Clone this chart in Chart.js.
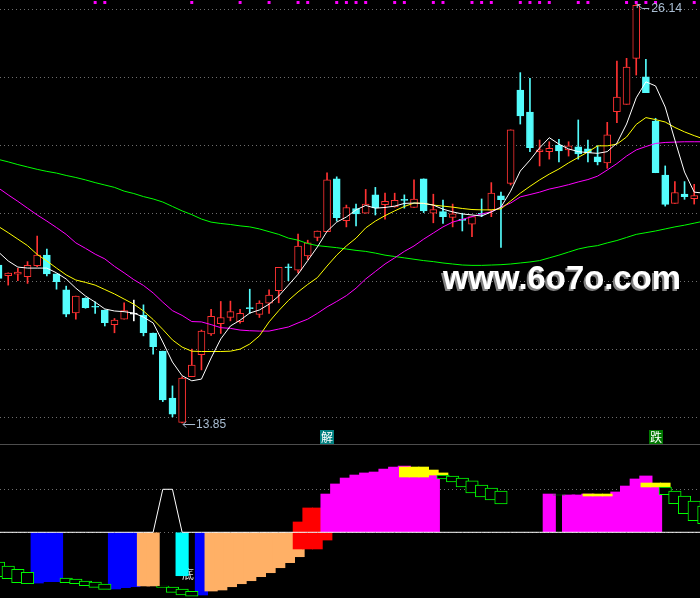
<!DOCTYPE html>
<html>
<head>
<meta charset="utf-8">
<script src="https://cdn.jsdelivr.net/npm/chart.js@4.4.1/dist/chart.umd.min.js"></script>
<style>
html,body{margin:0;padding:0;background:#000;}
#wrap{position:relative;width:700px;height:598px;background:#000;overflow:hidden;}
#top{position:absolute;left:0;top:0;width:700px;height:444px;}
#bot{position:absolute;left:0;top:444px;width:700px;height:154px;border-top:1px solid #4d4d4d;box-sizing:border-box;}
canvas{display:block;}
</style>
</head>
<body>
<div id="wrap">
  <div id="top"><canvas id="c1" width="700" height="444"></canvas></div>
  <div id="bot"><canvas id="c2" width="700" height="153"></canvas></div>
</div>
<script>
// ---------- price panel data (one entry per trading day) ----------
const openP = [18.49,18.18,18.22,18.15,18.47,18.78,18.23,17.76,17.08,17.51,
17.27,17.17,16.74,16.90,17.05,17.02,16.49,15.96,14.58,13.87,
15.21,15.86,16.47,16.77,16.95,16.83,17.23,17.04,17.37,17.74,
18.43,18.34,18.76,19.30,19.47,21.02,19.79,20.15,20.01,20.55,
20.26,20.20,20.41,20.18,21.02,20.01,20.06,19.89,19.82,19.69,
20.00,20.10,20.52,20.89,23.63,22.98,21.82,21.82,22.01,21.87,
21.96,21.90,21.67,21.49,22.99,23.21,24.56,24.02,22.72,21.13,
20.30,20.57,20.44,null];
const highP = [18.58,18.26,18.39,18.59,19.34,18.96,18.23,17.87,17.58,17.53,
17.41,17.17,16.92,17.38,17.46,17.32,16.49,15.96,14.94,15.21,
16.02,16.58,17.19,17.42,17.43,17.19,17.78,17.44,17.76,18.42,
18.52,19.40,19.22,19.49,21.20,21.08,20.25,20.28,20.71,20.77,
20.60,20.60,20.55,20.99,21.02,20.57,20.40,20.28,20.01,19.91,
20.43,20.91,20.63,22.46,24.14,23.97,22.16,22.11,22.18,22.11,
22.75,22.16,21.99,22.68,24.48,24.56,26.14,24.53,22.80,21.40,
20.94,20.94,20.86,null];
const lowP = [18.02,17.90,18.03,17.95,18.44,18.17,17.78,16.97,16.90,17.22,
17.07,16.70,16.50,16.90,16.85,16.41,15.87,14.48,14.03,13.85,
15.21,15.41,16.42,16.48,16.85,16.78,17.07,16.95,17.07,17.38,
18.03,18.26,18.64,19.20,19.47,19.78,19.61,19.64,20.01,19.96,
19.84,20.19,20.16,20.18,20.03,19.73,19.71,19.61,19.49,19.32,
19.91,19.91,19.01,20.84,22.63,21.82,21.40,21.60,21.52,21.69,
21.60,21.52,21.43,21.33,22.67,23.21,24.07,23.55,21.20,20.22,
20.30,20.42,20.28,null];
const closeP = [18.10,18.25,18.28,18.48,18.78,18.23,18.00,17.05,17.58,17.24,
17.25,16.80,16.87,17.15,17.05,16.50,16.09,14.53,14.11,15.17,
15.55,16.55,16.98,16.95,17.12,17.07,17.21,17.37,17.61,18.42,
18.41,19.05,19.14,19.49,20.99,19.88,20.18,19.99,20.28,20.17,
20.36,20.39,20.39,20.43,20.08,20.12,19.91,19.99,19.80,19.91,
19.98,20.60,20.41,22.46,22.87,21.94,21.87,21.92,21.84,21.99,
21.75,21.79,21.52,22.31,23.42,24.30,26.12,23.55,21.20,20.27,
20.62,20.50,20.53,null];

// moving-average lines
const ma5 = [18.87,18.61,18.43,18.40,18.40,18.40,18.26,18.08,17.81,17.58,
17.40,17.20,17.14,17.12,17.08,16.96,16.79,16.23,15.64,15.24,
15.09,15.14,15.76,16.32,16.70,16.87,17.08,17.17,17.34,17.58,
17.90,18.22,18.62,19.02,19.48,19.75,19.90,20.11,20.24,20.16,
20.18,20.22,20.30,20.31,20.30,20.25,20.13,20.05,19.99,19.96,
19.93,20.05,20.19,20.66,21.25,21.57,21.93,22.23,22.04,21.90,
21.82,21.79,21.77,21.82,22.07,22.63,23.40,23.87,23.75,23.13,
22.16,21.22,20.63,20.60];
const ma10 = [19.62,19.44,19.25,19.06,18.80,18.61,18.40,18.20,18.05,17.98,
17.90,17.77,17.64,17.49,17.34,17.14,16.89,16.60,16.29,16.08,
15.96,15.95,15.95,15.95,15.96,16.02,16.17,16.41,16.82,17.15,
17.45,17.70,17.92,18.12,18.46,18.78,19.05,19.28,19.58,19.78,
19.94,20.08,20.21,20.31,20.30,20.25,20.22,20.19,20.15,20.12,
20.11,20.11,20.14,20.37,20.60,20.80,20.99,21.16,21.31,21.49,
21.65,21.81,21.99,21.99,22.04,22.25,22.62,22.82,22.76,22.69,
22.53,22.40,22.29,22.19];
const ma20 = [20.75,20.55,20.36,20.16,19.96,19.78,19.59,19.39,19.14,18.98,
18.81,18.67,18.45,18.26,18.06,17.89,17.67,17.40,17.15,17.01,
16.83,16.82,16.74,16.65,16.63,16.58,16.56,16.55,16.55,16.61,
16.67,16.79,16.90,17.07,17.26,17.42,17.59,17.81,18.08,18.30,
18.52,18.70,18.89,19.05,19.25,19.43,19.61,19.75,19.83,19.91,
19.99,20.05,20.19,20.31,20.49,20.56,20.63,20.72,20.78,20.85,
20.93,21.00,21.10,21.28,21.47,21.69,21.87,21.97,22.06,22.09,
22.10,22.11,22.11,22.11];
const ma60 = [21.59,21.52,21.44,21.37,21.30,21.24,21.19,21.12,21.06,20.99,
20.91,20.84,20.77,20.66,20.59,20.50,20.43,20.34,20.21,20.08,
19.97,19.84,19.75,19.71,19.68,19.64,19.61,19.55,19.47,19.39,
19.28,19.22,19.12,19.06,19.03,19.00,18.96,18.92,18.89,18.84,
18.78,18.74,18.70,18.66,18.62,18.59,18.55,18.52,18.49,18.48,
18.48,18.49,18.50,18.52,18.55,18.58,18.62,18.70,18.78,18.87,
18.96,19.02,19.06,19.14,19.21,19.30,19.39,19.44,19.49,19.55,
19.61,19.66,19.72,19.78];

const priceTicks = [14,16,18,20,22,24,26];
const markerIdx = [10,11,20,25,28,31,32,35,36,37,38,41,42,45,46,49,50,51,54,55,56,57,60,61,65,66,67,68,72];
const markerLevel = 26.20;
const jieSignals = [34];   // 解
const dieSignals = [68];   // 跌
const watermarkText = 'www.6o7o.com';

// ---------- indicator panel data ----------
const signalTicks = [0,50];
const signalLine = [0,0,0,0,0,0,0,0,0,0,
0,0,0,0,0,0,0,50,50,0,
0,0,0,0,0,0,0,0,0,0,
0,0,0,0,0,0,0,0,0,0,
0,0,0,0,0,0,0,0,0,0,
0,0,0,0,0,0,0,0,0,0,
0,0,0,0,0,0,0,0,0,0,
0,0,0,0];
const blueBars = [[4,-59.0],[5,-57.4],[6,-57.4],[12,-65.9],[13,-64.4],[14,-63.3],[21,-72.9]];
const orangeBars = [[15,-62.4],[16,-62.4],[22,-68.3],[23,-67.1],[24,-63.3],[25,-59.8],[26,-56.3],[27,-51.6],[28,-47.0],[29,-41.2],[30,-35.3],[31,-28.4]];
const cyanBars = [[19,-50.5]];
const redUp = [[31,12.0],[32,28.3],[33,28.3]];
const redDown = [[31,-19.4],[32,-19.4],[33,-19.4],[34,-9.0]];
const magentaBars = [[34,44.5],[35,56.2],[36,63.1],[37,66.6],[38,69.0],[39,70.1],[40,73.6],[41,75.9],[42,77.1],[43,66.6],[44,66.6],[45,66.6],
[57,44.5],[59,43.4],[60,43.4],[61,44.5],[62,42.2],[63,42.2],[64,46.9],[65,53.8],[66,62.0],[67,65.5],[68,52.7]];
const yellowBars = [[42,64.3,75.9],[43,64.3,75.9],[44,64.3,75.9],[45,66.6,72.4],[46,66.6,69.0],
[61,42.2,44.5],[62,42.2,44.5],[63,42.2,44.5],[67,52.7,57.3],[68,52.7,57.3],[69,52.7,57.3]];
const greenBoxes = [[0,-51.6,-34.5],[1,-54.0,-39.2],[2,-58.6,-43.0],[3,-59.8,-46.5],
[7,-58.6,-53.1],[8,-59.8,-54.3],[9,-62.1,-56.6],[10,-64.0,-57.8],[11,-66.3,-60.1],
[17,-64.0,-62.4],[18,-69.8,-63.6],[19,-72.9,-65.9],[20,-74.4,-68.6],
[46,62.0,66.6],[47,58.5,65.5],[48,52.7,63.1],[49,45.7,59.7],[50,41.0,55.0],[51,37.6,51.5],[52,32.9,48.0],
[58,43.2,43.6],
[69,43.7,52.7],[70,33.3,48.0],[71,21.6,42.2],[72,13.5,36.4],[73,10.0,30.6]];
const bottomTexts = [[19,'底']];

// ---------- view ----------
const X_MIN = 0.151, X_MAX = 72.60;
const UP = '#ff3232', DOWN = '#54fcfc', FLAT = '#ffffff';
const GRID = '#6e6e6e';
const LABEL = '#a9bdd2';

const days = [];
for (let i = 0; i < openP.length; i++) if (openP[i] != null) days.push(i);
function candleColor(i){ const o = openP[i], c = closeP[i]; return c > o ? UP : (c < o ? DOWN : FLAT); }
const toXY = arr => arr.map((v,i) => ({x:i, y:v}));
const pairs = arr => arr.map(p => ({x:p[0], y:p[1]}));
const ranges = arr => arr.map(p => ({x:p[0], y:[p[1],p[2]]}));

const xScale = {type:'linear', min:X_MIN, max:X_MAX, offset:false, display:false, grid:{display:false}};

const topLabels = {
  id:'topLabels',
  afterDatasetsDraw(chart){
    const ctx = chart.ctx, xs = chart.scales.x, ys = chart.scales.y, area = chart.chartArea;
    ctx.save();
    // watermark
    ctx.font = 'bold 33px "Liberation Sans", Arial, sans-serif';
    ctx.fillStyle = '#ffffff';
    ctx.shadowColor = '#808080'; ctx.shadowOffsetX = -2; ctx.shadowOffsetY = 2; ctx.shadowBlur = 0;
    ctx.textAlign = 'left'; ctx.textBaseline = 'alphabetic';
    ctx.fillText(watermarkText, 443, 289, 238);
    ctx.restore();

    ctx.save();
    let lo = days[0], hi = days[0];
    days.forEach(i => { if (lowP[i] < lowP[lo]) lo = i; if (highP[i] > highP[hi]) hi = i; });
    ctx.strokeStyle = LABEL; ctx.fillStyle = LABEL; ctx.lineWidth = 1;
    ctx.font = '13px "Liberation Sans", Arial, sans-serif';
    ctx.textAlign = 'left'; ctx.textBaseline = 'middle';
    // low
    const lx = xs.getPixelForValue(lo), ly = ys.getPixelForValue(lowP[lo]);
    ctx.beginPath();
    ctx.moveTo(lx+1, ly+1.5); ctx.lineTo(lx+13, ly+1.5);
    ctx.moveTo(lx+4, ly-1.5); ctx.lineTo(lx+1, ly+1.5); ctx.lineTo(lx+4, ly+4.5);
    ctx.stroke();
    ctx.fillText(lowP[lo].toFixed(2), lx+14, ly+1, 30);
    // high
    const hx = xs.getPixelForValue(hi), hy = ys.getPixelForValue(highP[hi]);
    ctx.beginPath();
    ctx.moveTo(hx+1, hy); ctx.lineTo(hx+6, hy+4); ctx.lineTo(hx+13, hy+4);
    ctx.moveTo(hx+1, hy+3.5); ctx.lineTo(hx+1, hy); ctx.lineTo(hx+4.5, hy);
    ctx.stroke();
    ctx.fillText(highP[hi].toFixed(2), hx+15, hy+4, 31);
    // signal boxes
    const box = (i, txt, bg) => {
      const bx = Math.round(xs.getPixelForValue(i) - 7), by = area.bottom - 14;
      ctx.fillStyle = bg; ctx.fillRect(bx, by, 14, 14);
      ctx.fillStyle = '#ffffff'; ctx.font = '12px "Noto Sans CJK SC", sans-serif';
      ctx.textAlign = 'center'; ctx.textBaseline = 'middle';
      ctx.fillText(txt, bx+7, by+7.5);
    };
    jieSignals.forEach(i => box(i, '解', '#008080'));
    dieSignals.forEach(i => box(i, '跌', '#007800'));
    ctx.restore();
  }
};

new Chart(document.getElementById('c1'), {
  type:'bar',
  data:{datasets:[
    {type:'scatter', data: markerIdx.map(i => ({x:i, y:markerLevel})), pointStyle:'rect', pointRadius:2.1, pointBorderWidth:0, backgroundColor:'#ff00ff', borderColor:'#ff00ff', showLine:false, order:0},
    {type:'line', data: toXY(ma5), borderColor:'#ffffff', borderWidth:1, pointRadius:0, tension:0, order:1},
    {type:'line', data: toXY(ma10), borderColor:'#ffff00', borderWidth:1, pointRadius:0, tension:0, order:2},
    {type:'line', data: toXY(ma20), borderColor:'#ff00ff', borderWidth:1, pointRadius:0, tension:0, order:3},
    {type:'line', data: toXY(ma60), borderColor:'#00ff00', borderWidth:1, pointRadius:0, tension:0, order:4},
    {type:'bar', data: days.map(i => ({x:i, y:[openP[i], closeP[i]]})), barThickness:7, grouped:false, minBarLength:1,
      borderSkipped:false, borderWidth:1,
      backgroundColor: c => { const i = days[c.dataIndex]; return closeP[i] > openP[i] ? '#000000' : candleColor(i); },
      borderColor: c => candleColor(days[c.dataIndex]), order:5},
    {type:'bar', data: days.map(i => ({x:i, y:[lowP[i], highP[i]]})), barThickness:1, grouped:false, borderWidth:0,
      backgroundColor: c => candleColor(days[c.dataIndex]), order:6}
  ]},
  options:{
    responsive:false, maintainAspectRatio:false, animation:false, events:[],
    layout:{padding:0, autoPadding:false},
    plugins:{legend:{display:false}, tooltip:{enabled:false}},
    scales:{
      x: xScale,
      y:{type:'linear', min:13.234, max:26.273, beginAtZero:false, position:'left',
        afterFit: s => { s.width = 0; },
        afterBuildTicks: s => { s.ticks = priceTicks.map(v => ({value:v})); },
        ticks:{display:false}, grid:{color:GRID, lineWidth:1, drawTicks:false}, border:{display:false, dash:[1,3]}}
    }
  },
  plugins:[topLabels]
});

const bottomLabels = {
  id:'bottomLabels',
  beforeDatasetsDraw(chart){
    const ctx = chart.ctx, xs = chart.scales.x, ys = chart.scales.y;
    ctx.save();
    ctx.fillStyle = '#e0e0e0'; ctx.font = '12px "Noto Sans CJK SC", sans-serif';
    ctx.textAlign = 'center'; ctx.textBaseline = 'middle';
    bottomTexts.forEach(t => ctx.fillText(t[1], xs.getPixelForValue(t[0]) + 6, ys.getPixelForValue(-48.5)));
    ctx.restore();
  }
};

new Chart(document.getElementById('c2'), {
  type:'bar',
  data:{datasets:[
    {type:'line', data: toXY(signalLine), borderColor:'#ffffff', borderWidth:1, pointRadius:0, tension:0, order:0},
    {type:'bar', data: ranges(greenBoxes), barThickness:12.5, grouped:false, borderSkipped:false, borderWidth:1, backgroundColor:'#000000', borderColor:'#00ff00', order:1},
    {type:'bar', data: ranges(yellowBars), barThickness:10, grouped:false, borderWidth:0, backgroundColor:'#ffff00', order:2},
    {type:'bar', data: pairs(magentaBars), barThickness:12.5, grouped:false, borderWidth:0, backgroundColor:'#ff00ff', order:3},
    {type:'bar', data: pairs(redUp), barThickness:10, grouped:false, borderWidth:0, backgroundColor:'#ff0000', order:4},
    {type:'bar', data: pairs(redDown), barThickness:10, grouped:false, borderWidth:0, backgroundColor:'#ff0000', order:4},
    {type:'bar', data: pairs(cyanBars), barThickness:12.5, grouped:false, borderWidth:0, backgroundColor:'#00ffff', order:5},
    {type:'bar', data: pairs(orangeBars), barThickness:12.5, grouped:false, borderWidth:0, backgroundColor:'#ffb066', order:6},
    {type:'bar', data: pairs(blueBars), barThickness:12.5, grouped:false, borderWidth:0, backgroundColor:'#0000ff', order:7}
  ]},
  options:{
    responsive:false, maintainAspectRatio:false, animation:false, events:[],
    layout:{padding:0, autoPadding:false},
    plugins:{legend:{display:false}, tooltip:{enabled:false}},
    scales:{
      x: xScale,
      y:{type:'linear', min:-76.4, max:101.5, beginAtZero:false, position:'left',
        afterFit: s => { s.width = 0; },
        afterBuildTicks: s => { s.ticks = signalTicks.map(v => ({value:v})); },
        ticks:{display:false}, grid:{color:GRID, lineWidth:1, drawTicks:false}, border:{display:false, dash:[1,3]}}
    }
  },
  plugins:[bottomLabels]
});
</script>
</body>
</html>
